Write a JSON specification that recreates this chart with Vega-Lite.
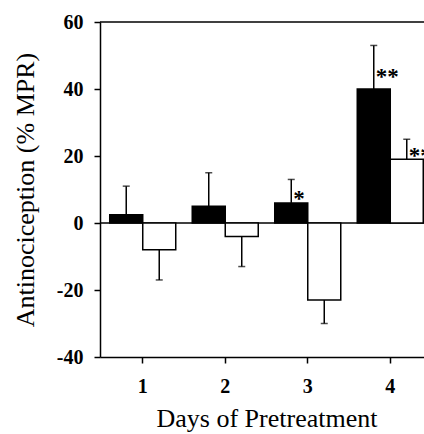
{
  "$schema": "https://vega.github.io/schema/vega-lite/v6.json",
  "width": 324,
  "height": 335,
  "autosize": {"type": "none"},
  "padding": {"left": 100, "top": 22, "right": 0, "bottom": 77},
  "background": "white",
  "config": {
    "view": {"stroke": null},
    "axis": {
      "grid": false,
      "domainColor": "black",
      "tickColor": "black",
      "labelColor": "black",
      "titleColor": "black",
      "labelFont": "Liberation Serif",
      "titleFont": "Liberation Serif",
      "domainWidth": 1.5,
      "tickWidth": 1.5
    }
  },
  "datasets": {
    "bars": [
      {"day": "1", "group": "A", "mean": 2.5, "end": 11},
      {"day": "1", "group": "B", "mean": -8, "end": -17},
      {"day": "2", "group": "A", "mean": 5, "end": 15},
      {"day": "2", "group": "B", "mean": -4, "end": -13},
      {"day": "3", "group": "A", "mean": 6, "end": 13},
      {"day": "3", "group": "B", "mean": -23, "end": -30},
      {"day": "4", "group": "A", "mean": 40, "end": 53},
      {"day": "4", "group": "B", "mean": 19, "end": 25}
    ],
    "sig": [
      {"day": "3", "group": "A", "y": 8.7, "label": "*"},
      {"day": "4", "group": "A", "y": 45, "label": "**"},
      {"day": "4", "group": "B", "y": 21.5, "label": "**"}
    ],
    "one": [{}]
  },
  "layer": [
    {
      "data": {"name": "one"},
      "mark": {"type": "rule", "color": "black", "strokeWidth": 1.5},
      "encoding": {"y": {"datum": 60}}
    },
    {
      "data": {"name": "one"},
      "mark": {"type": "rule", "color": "black", "strokeWidth": 1.5},
      "encoding": {"y": {"datum": 0}}
    },
    {
      "data": {"name": "bars"},
      "mark": {"type": "bar", "stroke": "black", "strokeWidth": 1.5},
      "encoding": {
        "x": {
          "field": "day",
          "type": "ordinal",
          "scale": {"range": [0, 333], "paddingInner": 0.2, "paddingOuter": 0.118},
          "axis": {
            "title": "Days of Pretreatment",
            "titleFontSize": 26,
            "titleFontWeight": "normal",
            "titlePadding": 9,
            "labelFontSize": 20,
            "labelFontWeight": "bold",
            "labelAngle": 0,
            "labelPadding": 13,
            "tickSize": 6
          }
        },
        "xOffset": {"field": "group", "scale": {"paddingInner": 0, "paddingOuter": 0}},
        "y": {
          "field": "mean",
          "type": "quantitative",
          "scale": {"domain": [-40, 60], "nice": false},
          "axis": {
            "values": [-40, -20, 0, 20, 40, 60],
            "labelExpr": "toString(datum.value)",
            "title": "Antinociception (% MPR)",
            "titleFontSize": 26,
            "titleFontWeight": "normal",
            "titlePadding": 18,
            "labelFontSize": 20,
            "labelFontWeight": "bold",
            "labelPadding": 11,
            "tickSize": 6
          }
        },
        "y2": {"datum": 0},
        "fill": {
          "field": "group",
          "scale": {"domain": ["A", "B"], "range": ["black", "white"]},
          "legend": null
        }
      }
    },
    {
      "data": {"name": "bars"},
      "mark": {"type": "rule", "color": "black", "strokeWidth": 1.5},
      "encoding": {
        "x": {"field": "day", "type": "ordinal"},
        "xOffset": {"field": "group"},
        "y": {"field": "mean", "type": "quantitative"},
        "y2": {"field": "end"}
      }
    },
    {
      "data": {"name": "bars"},
      "mark": {"type": "tick", "color": "black", "thickness": 1.5, "size": 7, "orient": "horizontal"},
      "encoding": {
        "x": {"field": "day", "type": "ordinal"},
        "xOffset": {"field": "group"},
        "y": {"field": "end", "type": "quantitative"}
      }
    },
    {
      "data": {"name": "sig"},
      "mark": {"type": "text", "font": "Liberation Serif", "fontWeight": "bold", "fontSize": 23, "align": "left", "baseline": "alphabetic", "dx": 2, "dy": 12, "color": "black"},
      "encoding": {
        "x": {"field": "day", "type": "ordinal"},
        "xOffset": {"field": "group"},
        "y": {"field": "y", "type": "quantitative"},
        "text": {"field": "label"}
      }
    }
  ]
}
